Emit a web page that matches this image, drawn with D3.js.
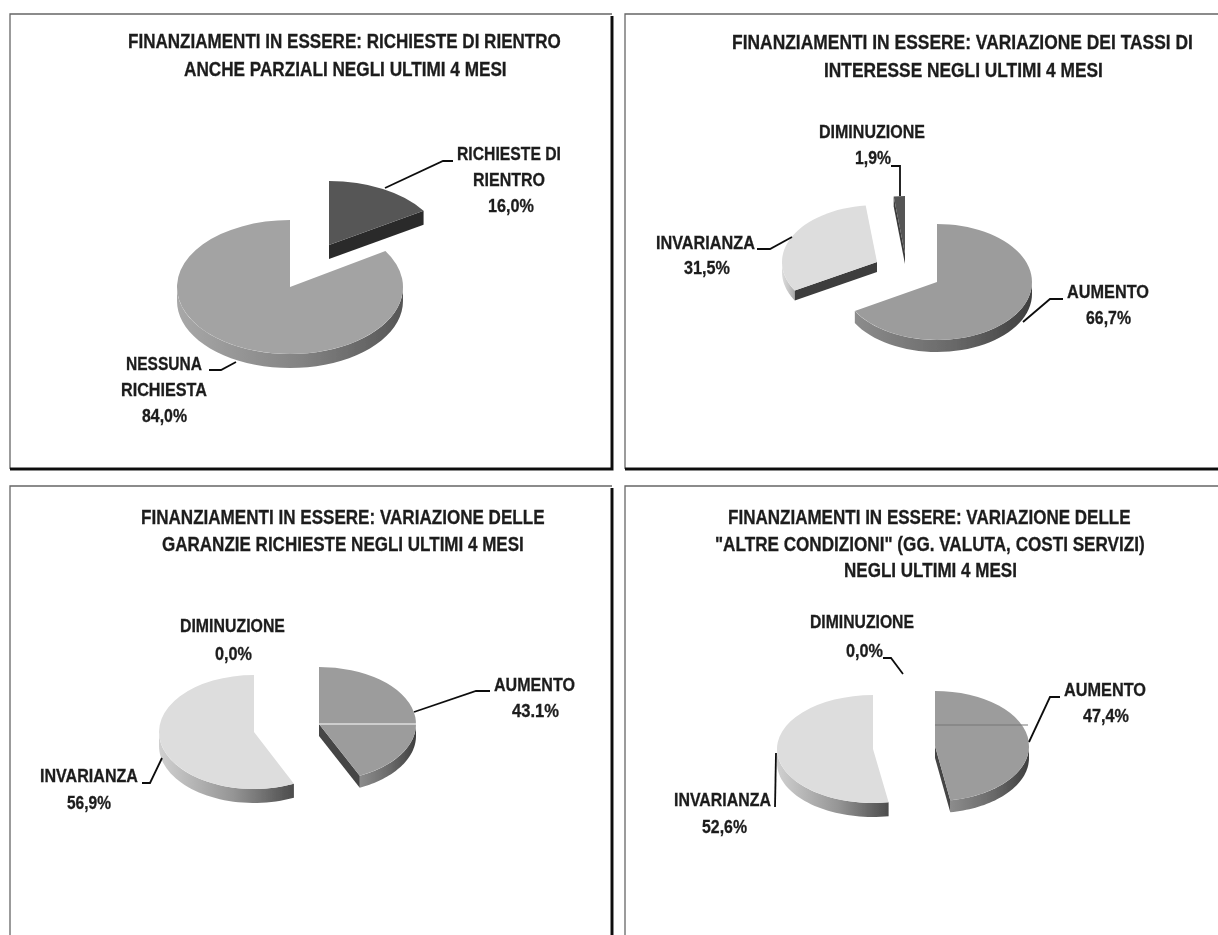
<!DOCTYPE html>
<html><head><meta charset="utf-8">
<script src="https://cdn.jsdelivr.net/npm/d3@7"></script>
<style>html,body{margin:0;padding:0;background:#fff;overflow:hidden}svg{display:block}</style>
</head><body><svg id="c" width="1218" height="935"></svg>
<script>
// ---------- values ----------
const p1Categories = ["RICHIESTE DI RIENTRO", "NESSUNA RICHIESTA"];
const p1Values = [16.0, 84.0];
const p2Categories = ["AUMENTO", "INVARIANZA", "DIMINUZIONE"];
const p2Values = [66.7, 31.5, 1.9];
const p3Categories = ["AUMENTO", "DIMINUZIONE", "INVARIANZA"];
const p3Values = [43.1, 0.0, 56.9];
const p4Categories = ["AUMENTO", "DIMINUZIONE", "INVARIANZA"];
const p4Values = [47.4, 0.0, 52.6];

// ---------- layout & style (separate from values) ----------
const tones = {
  dark: {top:"#565656", wall:["#303030","#262626"], cut:"#2b2b2b"},
  mid:  {top:"#a3a3a3", wall:["#a8a8a8","#565656"], cut:"#444"},
  aum:  {top:"#9c9c9c", wall:["#8c8c8c","#3f3f3f"], cut:"#444"},
  light:{top:"#dddddd", wall:["#d0d0d0","#4c4c4c"], cut:"#3c3c3c"},
  lightFlat:{top:"#dddddd", wall:["#dcdcdc","#a8a8a8"], cut:"#3c3c3c"},
  sliver:{top:"#555555", wall:["#333","#333"], cut:"#3a3a3a"}
};
const panels = [
 {cats:p1Categories, vals:p1Values,
  slices:[{c:[329,245],rx:112,ry:64,depth:14,tone:"dark"},{c:[290,287],rx:113,ry:67,depth:14,tone:"mid"}],
  title:[["FINANZIAMENTI IN ESSERE: RICHIESTE DI RIENTRO",128,561,48],["ANCHE PARZIALI NEGLI ULTIMI 4 MESI",184,507,76]],
  labels:[["RICHIESTE DI",457,561,160],["RIENTRO",473,545,186],["16,0%",488,534,212],
          ["NESSUNA",126,202,370],["RICHIESTA",121,207,396],["84,0%",142,187,422]],
  leaders:[[[453,161],[443,161],[385,188]],[[209,370],[221,370],[236,362]]]},
 {cats:p2Categories, vals:p2Values,
  slices:[{c:[937,282],rx:95,ry:58,depth:12,tone:"aum"},{c:[877,262],rx:95,ry:57,depth:10,tone:"lightFlat"},{c:[905,254],rx:95,ry:58,depth:10,tone:"sliver"}],
  title:[["FINANZIAMENTI IN ESSERE: VARIAZIONE DEI TASSI DI",732,1193,49],["INTERESSE NEGLI ULTIMI 4 MESI",824,1103,77]],
  labels:[["DIMINUZIONE",819,925,138],["1,9%",855,891,164],["INVARIANZA",656,755,249],["31,5%",684,730,274],
          ["AUMENTO",1067,1149,298],["66,7%",1086,1131,324]],
  leaders:[[[891,166],[900,166],[900,196]],[[757,249],[770,249],[792,237]],[[1063,299],[1050,299],[1023,322]]]},
 {cats:p3Categories, vals:p3Values,
  slices:[{c:[319,724],rx:97,ry:57,depth:12,tone:"aum"},null,{c:[254,732],rx:95,ry:57,depth:14,tone:"light"}],
  title:[["FINANZIAMENTI IN ESSERE: VARIAZIONE DELLE",141,545,524],["GARANZIE RICHIESTE NEGLI ULTIMI 4 MESI",162,524,551]],
  labels:[["DIMINUZIONE",180,285,632],["0,0%",215,252,660],["AUMENTO",494,575,691],["43.1%",512,559,717],
          ["INVARIANZA",40,138,782],["56,9%",67,111,809]],
  leaders:[[[490,691],[476,691],[414,712]],[[142,783],[150,783],[162,758]]],
  seam:[319,416,724,"#fff"]},
 {cats:p4Categories, vals:p4Values,
  slices:[{c:[935,746],rx:94,ry:55,depth:12,tone:"aum"},null,{c:[873,749],rx:96,ry:54,depth:14,tone:"light"}],
  title:[["FINANZIAMENTI IN ESSERE: VARIAZIONE DELLE",728,1131,524],["\"ALTRE CONDIZIONI\" (GG. VALUTA, COSTI SERVIZI)",715,1145,551],["NEGLI ULTIMI 4 MESI",844,1017,577]],
  labels:[["DIMINUZIONE",810,914,628],["0,0%",846,883,657],["AUMENTO",1064,1146,696],["47,4%",1083,1129,722],
          ["INVARIANZA",674,771,806],["52,6%",702,747,833]],
  leaders:[[[883,658],[891,658],[903,674]],[[1060,697],[1050,697],[1029,742]],[[775,807],[776,753]]],
  seam:[935,1028,725,"#777"]}
];
const frames = [
  {l:10,t:14,r:612,b:469},
  {l:625,t:14,r:1222,b:469},
  {l:10,t:486,r:612,b:945},
  {l:625,t:486,r:1222,b:945}
];

// ---------- drawing ----------
const svg = d3.select("#c");
const defs = svg.append("defs");
defs.append("filter").attr("id","soft").append("feGaussianBlur").attr("stdDeviation",0.45);
defs.append("filter").attr("id","soft2").append("feGaussianBlur").attr("stdDeviation",0.6);
Object.entries(tones).forEach(([k,t])=>{
  const g = defs.append("linearGradient").attr("id","w-"+k).attr("x1",0).attr("x2",1).attr("y1",0).attr("y2",0);
  g.append("stop").attr("offset",0).attr("stop-color",t.wall[0]);
  g.append("stop").attr("offset",0.55).attr("stop-color",d3.interpolateRgb(t.wall[0],t.wall[1])(0.45));
  g.append("stop").attr("offset",1).attr("stop-color",t.wall[1]);
});

// frames
const fr = svg.append("g").attr("filter","url(#soft)");
frames.forEach(f=>{
  fr.append("path").attr("d",`M${f.l},${f.b}V${f.t}H${f.r}`).attr("fill","none").attr("stroke","#666").attr("stroke-width",1.3);
  fr.append("path").attr("d",`M${f.l},${f.b}H${f.r}V${f.t+2}`).attr("fill","none").attr("stroke","#111").attr("stroke-width",3);
});

const pie = d3.pie().sort(null).value(v=>v).startAngle(0).endAngle(2*Math.PI);
const lineGen = d3.line();

panels.forEach(p=>{
  const g = svg.append("g").attr("filter","url(#soft2)");
  pie(p.vals).forEach((d,i)=>{
    const s = p.slices[i];
    if(!s || d.value===0) return;
    const t = tones[s.tone];
    const pt = a=>[s.c[0]+s.rx*Math.sin(a), s.c[1]-s.ry*Math.cos(a)];
    // rim wall: only the part of the slice's arc that faces the viewer
    const lo = Math.max(d.startAngle,Math.PI/2), hi = Math.min(d.endAngle,3*Math.PI/2);
    if(hi>lo){
      const as = d3.range(0,41).map(k=>lo+(hi-lo)*k/40);
      const up = as.map(pt), down = as.slice().reverse().map(a=>{const q=pt(a);return [q[0],q[1]+s.depth];});
      g.append("path").attr("d",lineGen(up.concat(down))+"Z").attr("fill",`url(#w-${s.tone})`);
    }
    // cut walls
    [[d.startAngle,-1],[d.endAngle,1]].forEach(([a,sign])=>{
      if(sign*Math.sin(a)>0.01){
        const q=pt(a);
        g.append("path").attr("d",lineGen([s.c,q,[q[0],q[1]+s.depth],[s.c[0],s.c[1]+s.depth]])+"Z").attr("fill",t.cut);
      }
    });
    // top face
    g.append("path")
      .attr("d",d3.arc().innerRadius(0).outerRadius(s.rx)(d))
      .attr("transform",`translate(${s.c[0]},${s.c[1]}) scale(1,${s.ry/s.rx})`)
      .attr("fill",t.top);
  });
  if(p.seam){
    g.append("line").attr("x1",p.seam[0]).attr("x2",p.seam[1]).attr("y1",p.seam[2]).attr("y2",p.seam[2])
     .attr("stroke",p.seam[3]).attr("stroke-width",1);
  }
  p.leaders.forEach(l=>{
    g.append("path").attr("d",lineGen(l)).attr("fill","none").attr("stroke","#111").attr("stroke-width",1.8);
  });
  const txt = svg.append("g").attr("filter","url(#soft)").attr("font-family","'Liberation Sans',Arial,sans-serif").attr("font-weight","bold").attr("fill","#1c1c1c").attr("stroke","#1c1c1c").attr("stroke-width",0.3);
  const put=(arr,size)=>arr.forEach(([s,x0,x1,y])=>{
    const el = txt.append("text").attr("font-size",size).text(s);
    const natural = el.node().getComputedTextLength();
    el.attr("transform",`translate(${x0},${y}) scale(${(x1-x0)/natural},1)`);
  });
  put(p.title,20);
  put(p.labels,19);
});
</script></body></html>
